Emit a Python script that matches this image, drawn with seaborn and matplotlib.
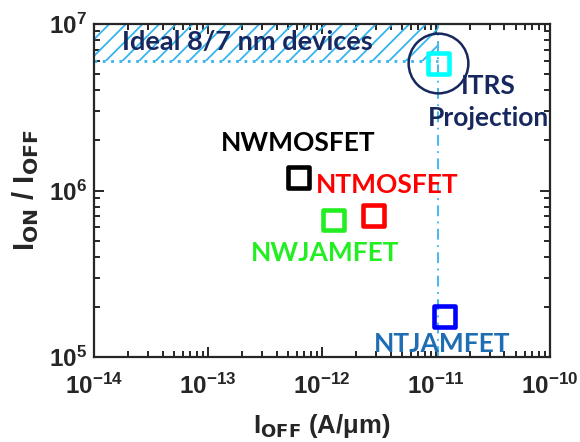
import matplotlib
matplotlib.use("Agg")
import matplotlib.pyplot as plt
import seaborn as sns
import pandas as pd
from matplotlib.ticker import FixedLocator, LogLocator, NullFormatter

# Device data: off-current (A/um) and on/off ratio
devices = ["NWMOSFET", "NTMOSFET", "NWJAMFET", "NTJAMFET", "ITRS"]
i_off = [6.2e-13, 2.85e-12, 1.27e-12, 1.2e-11, 1.05e-11]
on_off = [1.2e6, 7.1e5, 6.65e5, 1.76e5, 5.8e6]
marker_colors = ["#000000", "#ff0000", "#22ee22", "#0000ff", "#00ffff"]

label_texts = ["NWMOSFET", "NTMOSFET", "NWJAMFET", "NTJAMFET", "ITRS\nProjection"]
label_colors = ["#000000", "#ff0000", "#22ee22", "#1f6db3", "#16285e"]
label_offsets = [(0, 25), (10, 22), (-6, -24), (-2, -20), (36, -28)]

# ITRS target for the ideal 8/7 nm region
itrs_ioff_max = 1.05e-11
itrs_ratio_min = 6.0e6

x_ticks = [1e-14, 1e-13, 1e-12, 1e-11, 1e-10]
x_ticklabels = ["-14", "-13", "-12", "-11", "-10"]
y_ticks = [1e5, 1e6, 1e7]
y_ticklabels = ["5", "6", "7"]

sns.set_style("ticks")
plt.rcParams["font.family"] = ["Liberation Sans", "DejaVu Sans"]
plt.rcParams["font.weight"] = "bold"
plt.rcParams["mathtext.fontset"] = "custom"
plt.rcParams["mathtext.rm"] = "Liberation Sans:bold"
plt.rcParams["mathtext.bf"] = "Liberation Sans:bold"
plt.rcParams["mathtext.it"] = "Liberation Sans:bold"
plt.rcParams["mathtext.sf"] = "DejaVu Sans:bold"
plt.rcParams["hatch.linewidth"] = 1.3

fig = plt.figure(figsize=(5.8, 4.42), dpi=100)
ax = fig.add_axes([0.162, 0.192, 0.786, 0.754])
ax.set_xscale("log")
ax.set_yscale("log")
ax.set_xlim(1e-14, 1e-10)
ax.set_ylim(1e5, 1e7)

hatch_color = "#36b4ee"
# ideal region
ax.fill_between([1e-14, itrs_ioff_max], itrs_ratio_min, 1e7,
                facecolor="none", edgecolor=hatch_color, hatch="//", linewidth=0)
ax.plot([1e-14, itrs_ioff_max], [itrs_ratio_min, itrs_ratio_min],
        color=hatch_color, ls=(0, (1, 2)), lw=2)
ax.axvline(itrs_ioff_max, color=hatch_color, ls=(0, (6, 3, 1, 3)), lw=1.3)

df = pd.DataFrame({"device": devices, "ioff": i_off, "ratio": on_off})
sns.scatterplot(data=df, x="ioff", y="ratio", hue="device",
                palette=dict(zip(devices, marker_colors)), marker="s",
                s=225, linewidth=0, legend=False, ax=ax, zorder=4)
coll = ax.collections[-1]
coll.set_edgecolors(coll.get_facecolors())
coll.set_facecolors("none")
coll.set_linewidths(3.3)

# circle around the ITRS point
ax.plot([i_off[4]], [on_off[4]], marker="o", ms=43, mfc="none",
        mec="#16285e", mew=1.8, zorder=3)

for i in range(len(devices)):
    ax.annotate(label_texts[i], (i_off[i], on_off[i]), xytext=label_offsets[i],
                textcoords="offset points", ha="center", va="center",
                multialignment="center", color=label_colors[i], fontsize=19,
                fontweight="bold", family=["Lato", "DejaVu Sans"],
                linespacing=1.4, zorder=5)

ax.text(0.062, 0.945, "Ideal 8/7 nm devices", transform=ax.transAxes,
        ha="left", va="center", color="#16285e", fontsize=19.5,
        fontweight="bold", family=["Lato", "DejaVu Sans"], zorder=5)

ax.xaxis.set_major_locator(FixedLocator(x_ticks))
ax.yaxis.set_major_locator(FixedLocator(y_ticks))
ax.set_xticklabels([r"$\mathbf{10^{%s}}$" % t for t in x_ticklabels])
ax.set_yticklabels([r"$\mathbf{10^{%s}}$" % t for t in y_ticklabels])
ax.xaxis.set_minor_locator(LogLocator(base=10, subs=range(2, 10)))
ax.yaxis.set_minor_locator(LogLocator(base=10, subs=range(2, 10)))
ax.xaxis.set_minor_formatter(NullFormatter())
ax.yaxis.set_minor_formatter(NullFormatter())
ax.tick_params(which="both", direction="in", top=True, right=True,
               width=1.4, labelsize=17.5)
ax.tick_params(axis="x", which="major", pad=12)
ax.tick_params(axis="y", which="major", pad=5)
ax.tick_params(which="major", length=7)
ax.tick_params(which="minor", length=4)
for sp in ax.spines.values():
    sp.set_linewidth(1.6)

ax.set_xlabel(r"$\mathbf{I}_{\mathsf{OFF}}$ (A/μm)", fontsize=18.5,
              fontweight="bold", labelpad=9)
ax.set_ylabel(r"$\mathbf{I}_{\mathsf{ON}}$ / $\mathbf{I}_{\mathsf{OFF}}$",
              fontsize=21, fontweight="bold", labelpad=6)

fig.savefig("out.png", dpi=100)
